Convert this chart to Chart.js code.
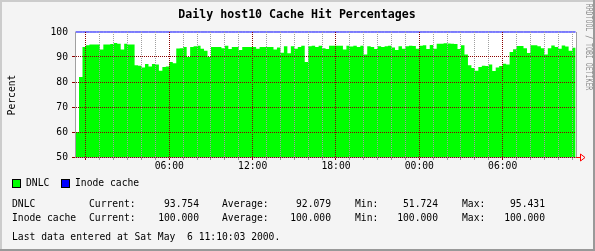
<!DOCTYPE html>
<html lang="en">
<head>
<meta charset="UTF-8">
<title>Daily host10 Cache Hit Percentages</title>
<script src="https://cdn.jsdelivr.net/npm/chart.js"></script>
<style>
    html, body { margin: 0; padding: 0; background: #f4f4f4; }
    #wrap { width: 595px; height: 251px; }
</style>
</head>
<body>
<div id="wrap"><canvas id="hitChart" width="595" height="251"></canvas></div>
<script>
// one sample every 15 minutes, first one at 23:15 the day before (hour -0.75)
const startHour = -0.75;
const stepHours = 0.25;

const dnlc = [
    60, 82, 94, 94.7, 95, 95, 95, 93, 95, 95,
    95.2, 95.6, 95.3, 93, 95.3, 95, 95, 86.7, 86.5, 85.8,
    87.2, 86.2, 87.2, 87, 84.5, 86, 86.2, 88, 87.5, 93.4,
    93.5, 94, 90, 94, 94.3, 94.5, 93.3, 92.5, 90, 94,
    94, 94, 93.5, 94.5, 93.2, 94, 94, 92.8, 94, 94,
    94, 94, 93.3, 94, 94, 94, 94, 93, 93.8, 91.7,
    94.3, 91.5, 94.3, 93.3, 94, 94.5, 88, 94.3, 94.5, 94,
    94.5, 93.5, 93.2, 94.5, 94.5, 94.5, 94.5, 93, 94.5, 94.2,
    94.5, 94, 94.5, 91, 94.3, 94, 93.2, 94.3, 94, 94.3,
    94.5, 93.8, 92.8, 94.3, 93.3, 94.3, 94.5, 94.4, 93.3, 94.5,
    94.7, 93.2, 94.8, 93.3, 95.3, 95.3, 95.5, 95.4, 95.3, 95.2,
    93.2, 94.7, 91, 86.7, 85.6, 84.5, 86, 86.5, 86.4, 87,
    84.4, 85.8, 86.4, 87.3, 87, 92, 93.1, 94.4, 94.4, 93.5,
    91.6, 94.7, 94.7, 94.3, 93.5, 91, 93.5, 94.6, 94, 93.3,
    94.6, 94.2, 92.5, 93.75
];

const inode = [
    100, 100, 100, 100, 100, 100, 100, 100, 100, 100, 100, 100, 100, 100, 100, 100,
    100, 100, 100, 100, 100, 100, 100, 100, 100, 100, 100, 100, 100, 100, 100, 100,
    100, 100, 100, 100, 100, 100, 100, 100, 100, 100, 100, 100, 100, 100, 100, 100,
    100, 100, 100, 100, 100, 100, 100, 100, 100, 100, 100, 100, 100, 100, 100, 100,
    100, 100, 100, 100, 100, 100, 100, 100, 100, 100, 100, 100, 100, 100, 100, 100,
    100, 100, 100, 100, 100, 100, 100, 100, 100, 100, 100, 100, 100, 100, 100, 100,
    100, 100, 100, 100, 100, 100, 100, 100, 100, 100, 100, 100, 100, 100, 100, 100,
    100, 100, 100, 100, 100, 100, 100, 100, 100, 100, 100, 100, 100, 100, 100, 100,
    100, 100, 100, 100, 100, 100, 100, 100, 100, 100, 100, 100, 100, 100, 100, 100
];

// x axis: hours since midnight, grid every hour, labels every 6 hours
const xGridHours = [0, 1, 2, 3, 4, 5, 6, 7, 8, 9, 10, 11, 12, 13, 14, 15, 16, 17,
    18, 19, 20, 21, 22, 23, 24, 25, 26, 27, 28, 29, 30, 31, 32, 33, 34, 35];
const xLabelHours = [6, 12, 18, 24, 30];
const xLabelText = ['06:00', '12:00', '18:00', '00:00', '06:00'];
const yLabelValues = [50, 60, 70, 80, 90, 100];

const seriesNames = ['DNLC', 'Inode cache'];
const seriesColors = ['#00ff00', '#0000ff'];
const statCurrent = ['93.754', '100.000'];
const statAverage = ['92.079', '100.000'];
const statMin = ['51.724', '100.000'];
const statMax = ['95.431', '100.000'];

const MONO = '"DejaVu Sans Mono", "Liberation Mono", monospace';
const MAJOR = '#8b0000';
const MINOR = '#a0a0a0';

function toPoints(values) {
    const pts = values.map((v, i) => ({x: startHour + i * stepHours, y: v}));
    // hold the last sample to the end of its interval
    pts.push({x: startHour + values.length * stepHours, y: values[values.length - 1]});
    return pts;
}

function text(ctx, str, x, y, align) {
    ctx.textAlign = align || 'left';
    ctx.fillText(str, x, y);
}

const rrdFrame = {
    id: 'rrdFrame',
    beforeDraw(chart) {
        const {ctx, chartArea: a} = chart;
        ctx.save();
        ctx.fillStyle = '#f4f4f4';
        ctx.fillRect(0, 0, 595, 251);
        ctx.fillStyle = '#ffffff';
        ctx.fillRect(a.left, a.top, a.right - a.left, a.bottom - a.top);
        ctx.restore();
    },
    afterDraw(chart) {
        const {ctx, chartArea: a} = chart;
        ctx.save();

        // right edge of plot
        ctx.strokeStyle = MINOR;
        ctx.lineWidth = 1;
        ctx.beginPath();
        ctx.moveTo(a.right + 0.5, a.top);
        ctx.lineTo(a.right + 0.5, a.bottom);
        ctx.stroke();

        // red arrow at the end of the x axis
        ctx.strokeStyle = '#ff0000';
        ctx.beginPath();
        ctx.moveTo(a.right, a.bottom + 0.5);
        ctx.lineTo(a.right + 5, a.bottom + 0.5);
        ctx.moveTo(a.right + 4.5, a.bottom - 3);
        ctx.lineTo(a.right + 4.5, a.bottom + 4);
        ctx.lineTo(a.right + 9, a.bottom + 0.5);
        ctx.closePath();
        ctx.stroke();

        ctx.fillStyle = '#000';
        ctx.textBaseline = 'middle';

        // title
        ctx.font = 'bold 11.6px ' + MONO;
        text(ctx, 'Daily host10 Cache Hit Percentages', 297, 15, 'center');

        // y axis title
        ctx.font = '9.7px ' + MONO;
        ctx.save();
        ctx.translate(12, 95);
        ctx.rotate(-Math.PI / 2);
        text(ctx, 'Percent', 0, 0, 'center');
        ctx.restore();

        // side credit
        ctx.save();
        ctx.fillStyle = '#8c8c8c';
        ctx.font = '8.4px ' + MONO;
        ctx.translate(588.5, 47);
        ctx.rotate(Math.PI / 2);
        ctx.scale(0.78, 1);
        text(ctx, 'RRDTOOL / TOBI OETIKER', 0, 0, 'center');
        ctx.restore();

        // legend
        ctx.font = '9.7px ' + MONO;
        const legendX = [12, 61];
        seriesNames.forEach((name, i) => {
            ctx.fillStyle = seriesColors[i];
            ctx.fillRect(legendX[i], 179, 8, 8);
            ctx.strokeStyle = '#000';
            ctx.strokeRect(legendX[i] + 0.5, 179.5, 8, 8);
            ctx.fillStyle = '#000';
            text(ctx, name, legendX[i] + 14, 183.5);
        });

        // statistics
        seriesNames.forEach((name, i) => {
            const y = 204.5 + i * 13.5;
            text(ctx, name, 12, y);
            text(ctx, 'Current:', 89, y);
            text(ctx, statCurrent[i], 199, y, 'right');
            text(ctx, 'Average:', 222, y);
            text(ctx, statAverage[i], 331, y, 'right');
            text(ctx, 'Min:', 355, y);
            text(ctx, statMin[i], 438, y, 'right');
            text(ctx, 'Max:', 462, y);
            text(ctx, statMax[i], 545, y, 'right');
        });
        text(ctx, 'Last data entered at Sat May  6 11:10:03 2000.', 12, 237.5);

        // outer 3d border
        ctx.fillStyle = '#cccccc';
        ctx.fillRect(0, 0, 595, 2);
        ctx.fillRect(0, 0, 2, 251);
        ctx.fillStyle = '#999999';
        ctx.fillRect(0, 249, 595, 2);
        ctx.fillRect(593, 0, 2, 251);
        ctx.restore();
    }
};

function gridColorX(c) {
    if (!c.tick) return MINOR;
    return xLabelHours.includes(c.tick.value) || c.tick.value === 0 ? MAJOR : MINOR;
}

function gridColorY(c) {
    if (!c.tick) return MINOR;
    if (c.tick.value === 100) return 'rgba(0,0,0,0)';
    return c.tick.value % 10 === 0 ? MAJOR : MINOR;
}

new Chart(document.getElementById('hitChart'), {
    type: 'line',
    data: {
        datasets: [{
            label: seriesNames[0],
            data: toPoints(dnlc),
            stepped: true,
            fill: 'start',
            backgroundColor: seriesColors[0],
            borderColor: seriesColors[0],
            borderWidth: 0,
            pointRadius: 0
        }, {
            label: seriesNames[1],
            data: toPoints(inode),
            stepped: true,
            fill: false,
            clip: 3,
            borderColor: seriesColors[1],
            borderWidth: 1,
            pointRadius: 0
        }]
    },
    plugins: [rrdFrame],
    options: {
        responsive: false,
        animation: false,
        events: [],
        layout: { padding: { left: 0, top: 32, right: 19, bottom: 74 } },
        plugins: { legend: { display: false }, tooltip: { enabled: false } },
        scales: {
            x: {
                type: 'linear',
                min: -0.79,
                max: 35.28,
                afterBuildTicks: s => { s.ticks = xGridHours.map(v => ({value: v})); },
                afterFit: s => { s.height = 20; },
                ticks: {
                    autoSkip: false,
                    maxRotation: 0,
                    padding: 1,
                    color: '#000',
                    font: { family: MONO, size: 9.7 },
                    callback: v => {
                        const k = xLabelHours.indexOf(v);
                        return k >= 0 ? xLabelText[k] : '';
                    }
                },
                grid: { color: gridColorX, tickLength: 3, z: 1 },
                border: { color: MINOR, dash: [1, 1], z: 1 }
            },
            y: {
                min: 50,
                max: 100,
                afterFit: s => { s.width = 75; },
                ticks: {
                    stepSize: 5,
                    padding: 4,
                    color: '#000',
                    font: { family: MONO, size: 9.7 },
                    callback: v => yLabelValues.includes(v) ? String(v) : ''
                },
                grid: { color: gridColorY, tickLength: 3, z: 1 },
                border: { color: MINOR, dash: [1, 1], z: 1 }
            }
        }
    }
});
</script>
</body>
</html>
